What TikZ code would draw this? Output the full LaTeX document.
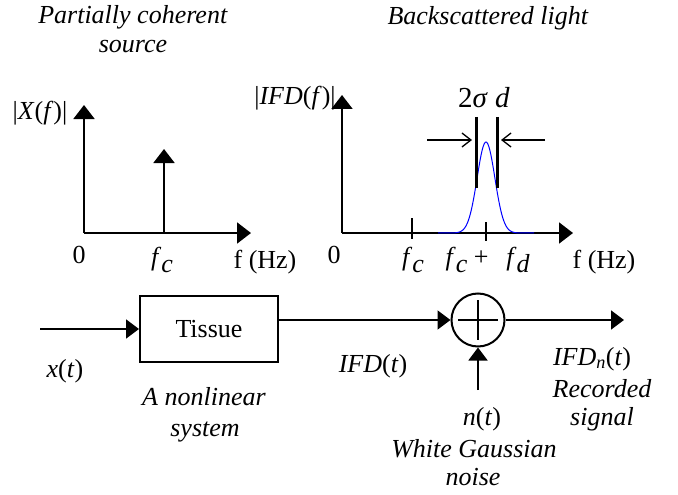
\documentclass[tikz,border=0pt]{standalone}
\usepackage{fontspec}
\setmainfont{Liberation Serif}
\usetikzlibrary{arrows.meta,calc}
\tikzset{
  lbl/.style={font=\fontsize{26}{30}\selectfont, inner sep=0pt, anchor=base},
  axis/.style={line width=2pt, -{Triangle[length=14pt,width=21pt]}},
  conn/.style={line width=1.6pt, -{Triangle[length=13pt,width=19pt]}},
  plain/.style={line width=1.6pt},
  mark line/.style={line width=3pt},
  widtharrow/.style={line width=1.3pt, -{Straight Barb[length=9pt,width=14pt]}},
}
\newcommand{\fsub}[1]{\textit{f}\raisebox{-0.3em}{\textit{#1}}}
\begin{document}
\begin{tikzpicture}[x=1pt,y=-1pt]
\useasboundingbox (0,0) rectangle (678,495);
% titles
\node[lbl] (t1) at (133,24) {\textit{Partially coherent}};
\node[lbl] (t1b) at (133,53) {\textit{source}};
\node[lbl] (t2) at (488,25) {\textit{Backscattered light}};
% left plot
\coordinate (L0) at (84,233);
\coordinate (Lx) at (251,233);
\coordinate (Ly) at (84,105);
\coordinate (Ls0) at (164,233);
\coordinate (Ls1) at (164,149);
\draw[axis] (L0) -- (Lx);
\draw[axis] (L0) -- (Ly);
\draw[axis] (Ls0) -- (Ls1);
\node[lbl] (lX) at (40,120) {|\textit{X}(\textit{f})|};
\node[lbl] (l0) at (79,263) {0};
\node[lbl] (lfc) at (162,265) {\fsub{c}};
\node[lbl] (lHz) at (265,268) {f (Hz)};
% right plot
\coordinate (R0) at (342,233);
\coordinate (Rx) at (573,233);
\coordinate (Ry) at (342,95);
\draw[axis] (R0) -- (Rx);
\draw[axis] (R0) -- (Ry);
\coordinate (k1a) at (412,218);
\coordinate (k1b) at (412,239);
\coordinate (k2a) at (486,222);
\coordinate (k2b) at (486,241);
\draw[plain] (k1a) -- (k1b);
\draw[plain] (k2a) -- (k2b);
\draw[blue, line width=1pt] plot[domain=438:534, samples=90] (\x, {233-91*exp(-((\x-486)^2)/157)});
\coordinate (m1a) at (476,117);
\coordinate (m1b) at (476,188);
\coordinate (m2a) at (497,117);
\coordinate (m2b) at (497,188);
\draw[mark line] (m1a) -- (m1b);
\draw[mark line] (m2a) -- (m2b);
\coordinate (a1s) at (427,140);
\coordinate (a1e) at (472,140);
\coordinate (a2s) at (545,140);
\coordinate (a2e) at (501,140);
\draw[widtharrow] (a1s) -- (a1e);
\draw[widtharrow] (a2s) -- (a2e);
\node[lbl, font=\fontsize{29}{32}\selectfont] (lsig) at (484,107) {2\textit{σ} \textit{d}};
\node[lbl] (lIFD) at (295,105) {|\textit{IFD}(\textit{f})|};
\node[lbl] (r0) at (334,263) {0};
\node[lbl] (rfc) at (413,265) {\fsub{c}};
\node[lbl] (rfcp) at (467,265) {\fsub{c} +};
\node[lbl] (rfd) at (518,265) {\fsub{d}};
\node[lbl] (rHz) at (604,268) {f (Hz)};
% block diagram
\node[draw, line width=2pt, minimum width=138pt, minimum height=66pt, inner sep=0pt,
      font=\fontsize{26}{30}\selectfont] (tissue) at (209,329) {Tissue};
\coordinate (xin) at (40,329);
\draw[conn] (xin) -- (tissue.west);
\node[draw, circle, line width=2pt, minimum size=53pt, inner sep=0pt] (sum) at (478,320) {};
\draw[plain] ($(sum.center)+(-20,0)$) -- ($(sum.center)+(20,0)$);
\draw[plain] ($(sum.center)+(0,-20)$) -- ($(sum.center)+(0,20)$);
\coordinate (tout) at (278,320);
\draw[conn] (tout) -- (sum.west);
\coordinate (yout) at (624,320);
\draw[conn] (sum.east) -- (yout);
\coordinate (nin) at (478,390);
\draw[conn] (nin) -- (sum.south);
% labels
\node[lbl] (lx) at (65,377) {\textit{x}(\textit{t})};
\node[lbl] (lnl) at (204,405) {\textit{A nonlinear}};
\node[lbl] (lsys) at (205,436) {\textit{system}};
\node[lbl] (lift) at (373,372) {\textit{IFD}(\textit{t})};
\node[lbl] (lifn) at (592,365) {\textit{IFD}\textsubscript{\textit{n}}(\textit{t})};
\node[lbl] (lrec) at (602,397) {\textit{Recorded}};
\node[lbl] (lsgn) at (602,425) {\textit{signal}};
\node[lbl] (lnt) at (482,425) {\textit{n}(\textit{t})};
\node[lbl] (lwg) at (474,457) {\textit{White Gaussian}};
\node[lbl] (lno) at (473,485) {\textit{noise}};
\end{tikzpicture}
\end{document}
